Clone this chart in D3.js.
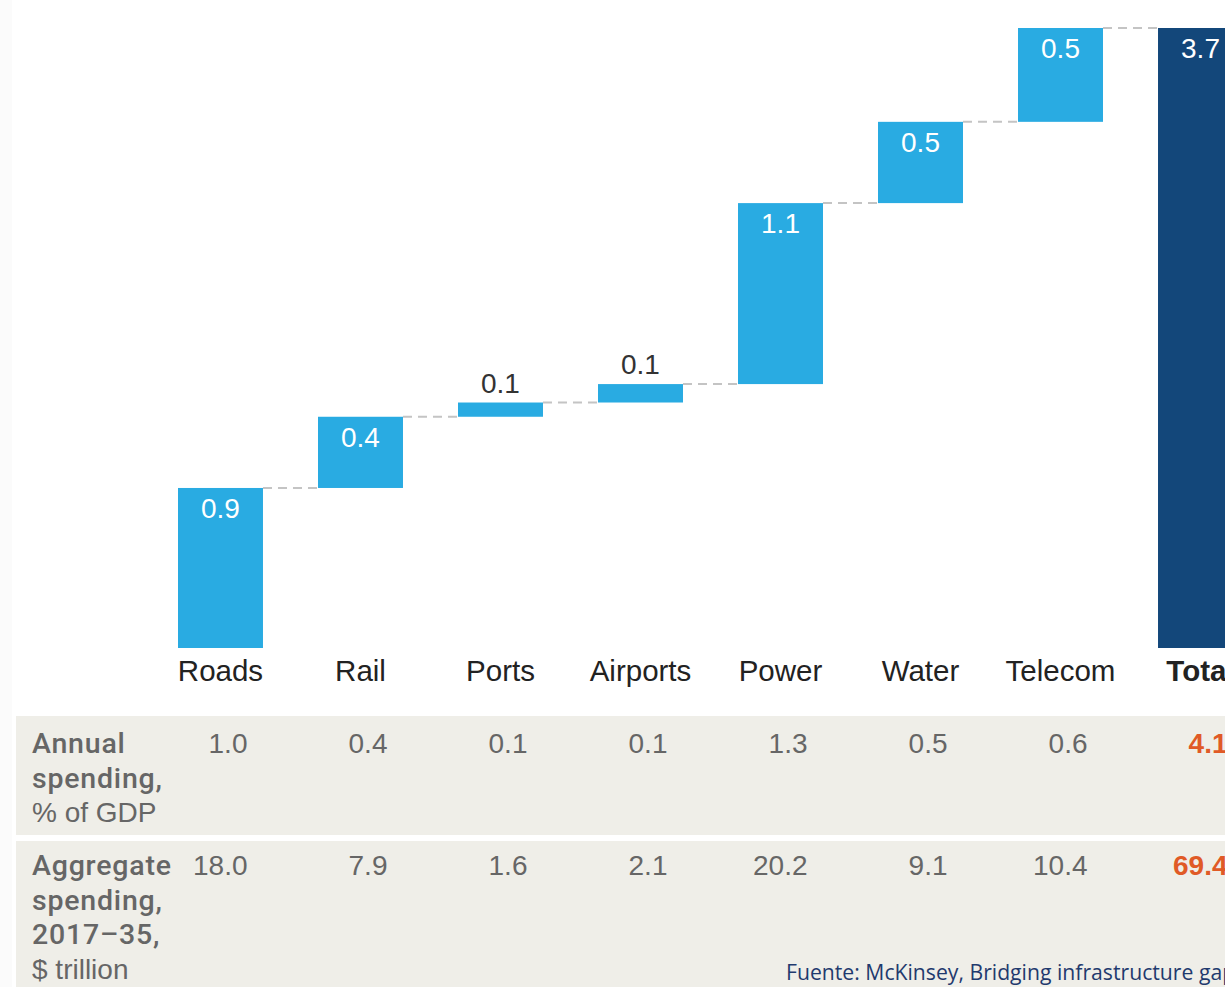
<!DOCTYPE html>
<html>
<head>
<meta charset="utf-8">
<script src="https://cdn.jsdelivr.net/npm/d3@7"></script>
<style>
  html, body { margin: 0; padding: 0; background: #ffffff; }
  svg { display: block; }
</style>
</head>
<body>
<svg id="chart" width="1225" height="987"></svg>
<script>
// ---- data ----
const categories = ["Roads", "Rail", "Ports", "Airports", "Power", "Water", "Telecom"];
const totalLabel = "Total";
const gapValues = [0.955, 0.425, 0.085, 0.11, 1.08, 0.485, 0.56];
const gapLabels = ["0.9", "0.4", "0.1", "0.1", "1.1", "0.5", "0.5"];
const totalValue = 3.7;
const totalText = "3.7";
const annualSpending = ["1.0", "0.4", "0.1", "0.1", "1.3", "0.5", "0.6"];
const annualTotal = "4.1";
const aggregateSpending = ["18.0", "7.9", "1.6", "2.1", "20.2", "9.1", "10.4"];
const aggregateTotal = "69.4";
const annualRowLabel = [["Annual", true], ["spending,", true], ["% of GDP", false]];
const aggregateRowLabel = [["Aggregate", true], ["spending,", true], ["2017–35,", true], ["$ trillion", false]];
const sourceText = "Fuente: McKinsey, Bridging infrastructure gap";

// ---- layout ----
const svg = d3.select("#chart");
const W = 1225, H = 987;
const FONT = "'Liberation Sans', Arial, Helvetica, sans-serif";
const MEDIUM = "Roboto, 'Liberation Sans', Arial, sans-serif";
const BLUE = "#29abe2", NAVY = "#13477a", ORANGE = "#e05a26";

svg.append("rect").attr("x", 0).attr("y", 0).attr("width", 12).attr("height", H).attr("fill", "#fbfbfb");

const allCats = categories.concat([totalLabel]);
const x = d3.scaleBand().domain(allCats).range([178, 1243]).paddingInner(0.393).paddingOuter(0);
const y = d3.scaleLinear().domain([0, totalValue]).range([648, 28]);

// cumulative
let cum = 0;
const steps = categories.map((c, i) => {
  const start = cum; cum += gapValues[i];
  return { cat: c, start, end: cum, label: gapLabels[i] };
});
const bars = steps.concat([{ cat: totalLabel, start: 0, end: totalValue, label: totalText, total: true }]);

// connectors
const conn = svg.append("g");
bars.forEach((b, i) => {
  if (i === bars.length - 1) return;
  const nx = bars[i + 1];
  conn.append("line")
    .attr("x1", x(b.cat) + x.bandwidth()).attr("x2", x(nx.cat))
    .attr("y1", y(b.end)).attr("y2", y(b.end))
    .attr("stroke", "#c4c4c4").attr("stroke-width", 2)
    .attr("stroke-dasharray", "9,6");
});

// bars
svg.append("g").selectAll("rect").data(bars).join("rect")
  .attr("x", d => x(d.cat))
  .attr("width", x.bandwidth())
  .attr("y", d => y(d.end))
  .attr("height", d => y(d.start) - y(d.end))
  .attr("fill", d => d.total ? NAVY : BLUE);

// bar labels
svg.append("g").selectAll("text").data(bars).join("text")
  .attr("x", d => x(d.cat) + x.bandwidth() / 2)
  .attr("y", d => (y(d.start) - y(d.end)) > 40 ? y(d.end) + 30 : y(d.end) - 10)
  .attr("text-anchor", "middle")
  .attr("font-family", FONT).attr("font-size", 28)
  .attr("fill", d => (y(d.start) - y(d.end)) > 40 ? "#ffffff" : "#333333")
  .text(d => d.label);

// category labels
svg.append("g").selectAll("text").data(allCats).join("text")
  .attr("x", d => x(d) + x.bandwidth() / 2)
  .attr("y", 681)
  .attr("text-anchor", "middle")
  .attr("font-family", FONT).attr("font-size", 29.5)
  .attr("font-weight", d => d === totalLabel ? "bold" : "normal")
  .attr("fill", "#222222")
  .text(d => d);

// table
const rows = [
  { top: 716, h: 119, label: annualRowLabel, vals: annualSpending, tot: annualTotal, base: 753 },
  { top: 841, h: 146, label: aggregateRowLabel, vals: aggregateSpending, tot: aggregateTotal, base: 875 }
];
rows.forEach(r => {
  const g = svg.append("g");
  g.append("rect").attr("x", 16).attr("y", r.top).attr("width", W - 16).attr("height", r.h).attr("fill", "#efeee8");
  r.label.forEach((ln, i) => {
    g.append("text").attr("x", 32).attr("y", r.base + i * 34.5)
      .attr("font-family", ln[1] ? MEDIUM : FONT).attr("font-size", ln[1] ? 28.5 : 28)
      .attr("font-weight", ln[1] ? 500 : "normal")
      .attr("letter-spacing", ln[1] ? 0.8 : 0)
      .attr("fill", "#666666").text(ln[0]);
  });
  const cells = r.vals.map((v, i) => ({ cat: categories[i], v, total: false }))
    .concat([{ cat: totalLabel, v: r.tot, total: true }]);
  g.selectAll("text.v").data(cells).join("text").attr("class", "v")
    .attr("x", d => x(d.cat) + x.bandwidth() / 2 + 27)
    .attr("y", r.base)
    .attr("text-anchor", "end")
    .attr("font-family", FONT).attr("font-size", 28)
    .attr("font-weight", d => d.total ? "bold" : "normal")
    .attr("fill", d => d.total ? ORANGE : "#666666")
    .text(d => d.v);
});

// source
svg.append("text").attr("x", 786).attr("y", 980)
  .attr("font-family", "'Open Sans', 'Noto Sans', sans-serif").attr("font-size", 21.2)
  .attr("fill", "#1f3a6e").text(sourceText);
</script>
</body>
</html>
